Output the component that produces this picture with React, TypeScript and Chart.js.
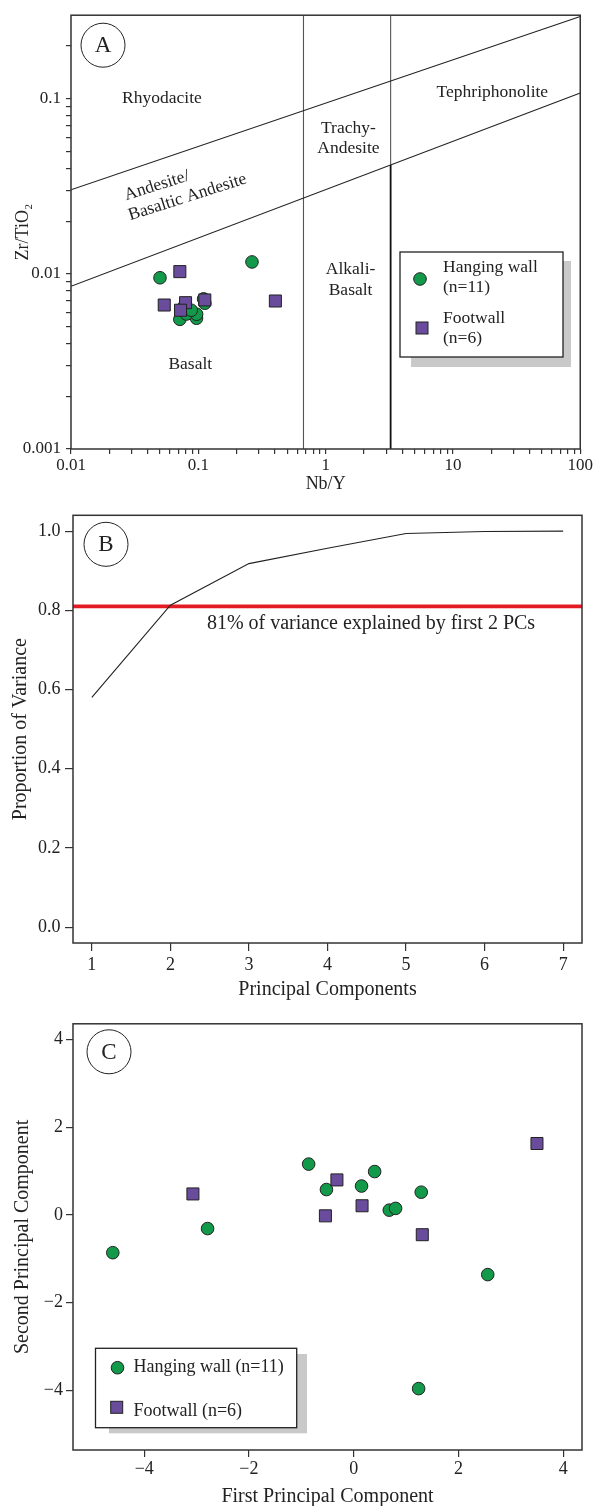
import React, { useEffect, useRef } from "react";
import { Chart, registerables } from "chart.js";

Chart.register(...registerables);

const FONT = "'Liberation Serif', 'Times New Roman', Times, serif";
const INK = "#222222";
const FRAME = "#333333";
const GREEN = "#12994a";
const PURPLE = "#6a4c9c";
const RED = "#e31b23";
const SHADOW = "#c9c9c9";

// ---------- Panel A: Zr/TiO2 vs Nb/Y ----------
const hangingNbY = [0.05, 0.264, 0.0716, 0.0968, 0.097, 0.0807, 0.1125, 0.11, 0.079, 0.074, 0.088];
const hangingZrTi = [0.0095, 0.0117, 0.0055, 0.00558, 0.00588, 0.0059, 0.0068, 0.0072, 0.0067, 0.0063, 0.0062];
const footNbY = [0.0716, 0.054, 0.0794, 0.0725, 0.1125, 0.403];
const footZrTi = [0.0103, 0.00664, 0.00685, 0.0062, 0.0071, 0.007];

// field boundaries (Nb/Y, Zr/TiO2)
const upperBoundaryNbY = [0.01, 100];
const upperBoundaryZrTi = [0.0302, 0.295];
const lowerBoundaryNbY = [0.01, 100];
const lowerBoundaryZrTi = [0.0085, 0.108];
const leftVerticalNbY = 0.67;
const rightVerticalNbY = 3.24;
const rightVerticalBreakZrTi = 0.0419;

const aXRange = [0.01, 100];
const aYRange = [0.001, 0.3];
const aXDecades = [0.01, 0.1, 1, 10, 100];
const aXTickLabels = ["0.01", "0.1", "1", "10", "100"];
const aYDecades = [0.001, 0.01, 0.1];
const aYTickLabels = ["0.001", "0.01", "0.1"];

const aFieldLabels = ["Rhyodacite", "Andesite/", "Basaltic Andesite", "Trachy-", "Andesite", "Tephriphonolite", "Alkali-", "Basalt", "Basalt"];
const aFieldLabelNbY = [0.0518, 0.0473, 0.0822, 1.51, 1.51, 20.4, 1.57, 1.57, 0.0865];
const aFieldLabelZrTi = [0.1, 0.0319, 0.0274, 0.0677, 0.0521, 0.1087, 0.0106, 0.00806, 0.00305];
const aFieldLabelAngle = [0, -17.6, -17.6, 0, 0, 0, 0, 0, 0];

// ---------- Panel B: scree (cumulative) ----------
const pcIndex = [1, 2, 3, 4, 5, 6, 7];
const cumulativeVariance = [0.58, 0.813, 0.918, 0.957, 0.994, 0.999, 1.0];
const varianceThreshold = 0.81;
const bXRange = [0.76, 7.24];
const bYRange = [-0.04, 1.04];
const bXTicks = [1, 2, 3, 4, 5, 6, 7];
const bYTicks = [0, 0.2, 0.4, 0.6, 0.8, 1.0];
const bNote = "81% of variance explained by first 2 PCs";
const bNoteAt = [4.554, 0.765];

// ---------- Panel C: PC scores ----------
const hangingPC1 = [-0.86, -0.52, 0.15, 0.4, 1.29, 0.68, 0.8, -2.79, -4.6, 2.56, 1.24];
const hangingPC2 = [1.16, 0.58, 0.66, 0.99, 0.52, 0.11, 0.15, -0.31, -0.86, -1.36, -3.96];
const footPC1 = [3.5, -0.32, -3.07, 0.16, -0.54, 1.31];
const footPC2 = [1.63, 0.8, 0.48, 0.21, -0.02, -0.45];
const cRange = [-5.36, 4.36];
const cTicks = [-4, -2, 0, 2, 4];

const zip = (xs: number[], ys: number[]) => xs.map((x, i) => ({ x, y: ys[i] }));
const minus = (v: number) => (v < 0 ? "\u2212" + Math.abs(v) : String(v));

function makeAxis(o: any) {
  return {
    type: o.type || "linear",
    position: o.position,
    min: o.min,
    max: o.max,
    afterBuildTicks: (s: any) => {
      s.ticks = o.tickValues.map((v: number) => ({ value: v }));
    },
    afterFit: (s: any) => {
      if (o.position === "bottom") s.height = o.size;
      else s.width = o.size;
    },
    grid: {
      display: true,
      drawOnChartArea: false,
      drawTicks: true,
      tickLength: o.tickLength,
      color: FRAME,
      lineWidth: 1.2,
    },
    border: { display: false },
    ticks: {
      autoSkip: false,
      maxRotation: 0,
      minRotation: 0,
      padding: o.tickPad,
      color: INK,
      font: { family: FONT, size: o.tickSize },
      callback: (v: number) => o.label(v),
    },
    title: {
      display: true,
      text: o.title,
      color: INK,
      font: { family: FONT, size: o.titleSize, lineHeight: o.titleLH || 1.2 },
      padding: o.titlePad,
    },
  };
}

function logTicks(lo: number, hi: number) {
  const out: number[] = [];
  for (let e = -4; e <= 3; e++) {
    for (let m = 1; m <= 9; m++) {
      const v = parseFloat((m * Math.pow(10, e)).toPrecision(6));
      if (v >= lo * 0.999 && v < hi * 0.999) out.push(v);
      if (Math.abs(v - hi) / hi < 1e-6) out.push(v);
    }
  }
  return out;
}

function decadeLabel(decades: number[], labels: string[]) {
  return (v: number) => {
    const i = decades.findIndex((d) => Math.abs(d - v) / d < 1e-6);
    return i >= 0 ? labels[i] : "";
  };
}

function drawFrameAndLetter(chart: any, letter: string, dx: number, dy: number) {
  const { ctx, chartArea: a } = chart;
  ctx.save();
  ctx.strokeStyle = FRAME;
  ctx.lineWidth = 1.5;
  ctx.strokeRect(a.left, a.top, a.right - a.left, a.bottom - a.top);
  ctx.beginPath();
  ctx.arc(a.left + dx, a.top + dy, 22, 0, Math.PI * 2);
  ctx.lineWidth = 1;
  ctx.strokeStyle = INK;
  ctx.stroke();
  ctx.fillStyle = INK;
  ctx.font = `23px ${FONT}`;
  ctx.textAlign = "center";
  ctx.textBaseline = "middle";
  ctx.fillText(letter, a.left + dx, a.top + dy + 1);
  ctx.restore();
}

function drawMarker(ctx: any, kind: string, x: number, y: number) {
  ctx.save();
  ctx.lineWidth = 1;
  ctx.strokeStyle = INK;
  if (kind === "circle") {
    ctx.fillStyle = GREEN;
    ctx.beginPath();
    ctx.arc(x, y, 6.3, 0, Math.PI * 2);
    ctx.fill();
    ctx.stroke();
  } else {
    ctx.fillStyle = PURPLE;
    ctx.fillRect(x - 6, y - 6, 12, 12);
    ctx.strokeRect(x - 6, y - 6, 12, 12);
  }
  ctx.restore();
}

function drawLegendBox(ctx: any, box: number[], shadow: number[]) {
  ctx.save();
  ctx.fillStyle = SHADOW;
  ctx.fillRect(shadow[0], shadow[1], shadow[2] - shadow[0], shadow[3] - shadow[1]);
  ctx.fillStyle = "#ffffff";
  ctx.fillRect(box[0], box[1], box[2] - box[0], box[3] - box[1]);
  ctx.strokeStyle = INK;
  ctx.lineWidth = 1.3;
  ctx.strokeRect(box[0], box[1], box[2] - box[0], box[3] - box[1]);
  ctx.restore();
}

function pointDataset(label: string, data: any[], kind: string) {
  return {
    label,
    data,
    pointStyle: kind === "circle" ? "circle" : "rect",
    pointRadius: kind === "circle" ? 6.3 : 8.5,
    pointBackgroundColor: kind === "circle" ? GREEN : PURPLE,
    pointBorderColor: INK,
    pointBorderWidth: 1,
    showLine: false,
  };
}

function lineDataset(data: any[], color: string, width: number) {
  return {
    data,
    showLine: true,
    borderColor: color,
    borderWidth: width,
    pointRadius: 0,
    pointHoverRadius: 0,
    fill: false,
  };
}

const basePlugins = {
  legend: { display: false },
  tooltip: { enabled: false },
};

function configA() {
  return {
    type: "scatter",
    data: {
      datasets: [
        pointDataset("Footwall (n=6)", zip(footNbY, footZrTi), "rect"),
        pointDataset("Hanging wall (n=11)", zip(hangingNbY, hangingZrTi), "circle"),
        lineDataset(zip(upperBoundaryNbY, upperBoundaryZrTi), INK, 1.1),
        lineDataset(zip(lowerBoundaryNbY, lowerBoundaryZrTi), INK, 1.1),
        lineDataset([{ x: leftVerticalNbY, y: aYRange[0] }, { x: leftVerticalNbY, y: aYRange[1] }], "#555555", 1.1),
        lineDataset([{ x: rightVerticalNbY, y: rightVerticalBreakZrTi }, { x: rightVerticalNbY, y: aYRange[1] }], "#555555", 1.1),
        lineDataset([{ x: rightVerticalNbY, y: aYRange[0] }, { x: rightVerticalNbY, y: rightVerticalBreakZrTi }], "#111111", 1.8),
      ],
    },
    options: {
      animation: false,
      responsive: false,
      events: [],
      layout: { padding: { left: 0, right: 13, top: 13, bottom: 0 } },
      plugins: basePlugins,
      scales: {
        x: makeAxis({
          type: "logarithmic", position: "bottom", min: aXRange[0], max: aXRange[1],
          tickValues: logTicks(aXRange[0], aXRange[1]), label: decadeLabel(aXDecades, aXTickLabels),
          size: 51, tickLength: 5, tickPad: 1, tickSize: 17,
          title: "Nb/Y", titleSize: 18, titlePad: { top: 0, bottom: 5 },
        }),
        y: makeAxis({
          type: "logarithmic", position: "left", min: aYRange[0], max: aYRange[1],
          tickValues: logTicks(aYRange[0], 0.25), label: decadeLabel(aYDecades, aYTickLabels),
          size: 71, tickLength: 5, tickPad: 5, tickSize: 17,
          title: "Zr/TiO\u2082", titleSize: 18, titlePad: { top: 12, bottom: 0 },
        }),
      },
    },
    plugins: [
      {
        id: "panelA",
        afterDraw(chart: any) {
          const { ctx } = chart;
          const sx = chart.scales.x, sy = chart.scales.y;
          ctx.save();
          ctx.fillStyle = INK;
          ctx.font = `17.5px ${FONT}`;
          ctx.textAlign = "center";
          ctx.textBaseline = "middle";
          aFieldLabels.forEach((t, i) => {
            const px = sx.getPixelForValue(aFieldLabelNbY[i]);
            const py = sy.getPixelForValue(aFieldLabelZrTi[i]);
            ctx.save();
            ctx.translate(px, py);
            ctx.rotate((aFieldLabelAngle[i] * Math.PI) / 180);
            ctx.fillText(t, 0, 0);
            ctx.restore();
          });
          ctx.restore();
          drawFrameAndLetter(chart, "A", 32, 30);
          drawLegendBox(ctx, [400, 252, 563, 357], [411, 261, 571, 367]);
          drawMarker(ctx, "circle", 420, 279);
          drawMarker(ctx, "rect", 422, 328);
          ctx.save();
          ctx.fillStyle = INK;
          ctx.font = `17.5px ${FONT}`;
          ctx.textAlign = "left";
          ctx.textBaseline = "middle";
          ctx.fillText("Hanging wall", 443, 267);
          ctx.fillText("(n=11)", 443, 287);
          ctx.fillText("Footwall", 443, 318);
          ctx.fillText("(n=6)", 443, 338);
          ctx.restore();
        },
      },
    ],
  };
}

function configB() {
  return {
    type: "scatter",
    data: {
      datasets: [
        lineDataset(zip(pcIndex, cumulativeVariance), INK, 1.1),
        lineDataset([{ x: bXRange[0], y: varianceThreshold }, { x: bXRange[1], y: varianceThreshold }], RED, 3.6),
      ],
    },
    options: {
      animation: false,
      responsive: false,
      events: [],
      layout: { padding: { left: 0, right: 12, top: 15, bottom: 0 } },
      plugins: basePlugins,
      scales: {
        x: makeAxis({
          position: "bottom", min: bXRange[0], max: bXRange[1], tickValues: bXTicks,
          label: (v: number) => String(v), size: 67, tickLength: 8, tickPad: 3.5, tickSize: 18,
          title: "Principal Components", titleSize: 20, titlePad: { top: 0, bottom: 8 },
        }),
        y: makeAxis({
          position: "left", min: bYRange[0], max: bYRange[1], tickValues: bYTicks,
          label: (v: number) => v.toFixed(1), size: 73, tickLength: 8, tickPad: 4.5, tickSize: 18,
          title: "Proportion of Variance", titleSize: 20, titlePad: { top: 9, bottom: 0 },
        }),
      },
    },
    plugins: [
      {
        id: "panelB",
        afterDraw(chart: any) {
          const { ctx } = chart;
          const sx = chart.scales.x, sy = chart.scales.y;
          ctx.save();
          ctx.fillStyle = INK;
          ctx.font = `20px ${FONT}`;
          ctx.textAlign = "center";
          ctx.textBaseline = "middle";
          ctx.fillText(bNote, sx.getPixelForValue(bNoteAt[0]), sy.getPixelForValue(bNoteAt[1]));
          ctx.restore();
          drawFrameAndLetter(chart, "B", 33, 29);
        },
      },
    ],
  };
}

function configC() {
  return {
    type: "scatter",
    data: {
      datasets: [
        pointDataset("Footwall (n=6)", zip(footPC1, footPC2), "rect"),
        pointDataset("Hanging wall (n=11)", zip(hangingPC1, hangingPC2), "circle"),
      ],
    },
    options: {
      animation: false,
      responsive: false,
      events: [],
      layout: { padding: { left: 0, right: 12, top: 13, bottom: 0 } },
      plugins: basePlugins,
      scales: {
        x: makeAxis({
          position: "bottom", min: cRange[0], max: cRange[1], tickValues: cTicks,
          label: minus, size: 56, tickLength: 7, tickPad: 1.5, tickSize: 18,
          title: "First Principal Component", titleSize: 20, titleLH: 0.95, titlePad: { top: 0, bottom: 0 },
        }),
        y: makeAxis({
          position: "left", min: cRange[0], max: cRange[1], tickValues: cTicks,
          label: minus, size: 73, tickLength: 7, tickPad: 3, tickSize: 18,
          title: "Second Principal Component", titleSize: 20, titlePad: { top: 10.7, bottom: 0 },
        }),
      },
    },
    plugins: [
      {
        id: "panelC",
        afterDraw(chart: any) {
          const { ctx } = chart;
          drawFrameAndLetter(chart, "C", 36, 28);
          drawLegendBox(ctx, [95.5, 338.3, 296.7, 417.7], [109, 344, 307, 423.3]);
          drawMarker(ctx, "circle", 117.5, 357.7);
          drawMarker(ctx, "rect", 116.7, 397.3);
          ctx.save();
          ctx.fillStyle = INK;
          ctx.font = `18px ${FONT}`;
          ctx.textAlign = "left";
          ctx.textBaseline = "middle";
          ctx.fillText("Hanging wall (n=11)", 133.4, 357.5);
          ctx.fillText("Footwall (n=6)", 133.4, 401);
          ctx.restore();
        },
      },
    ],
  };
}

function Panel({ top, height, make }: { top: number; height: number; make: () => any }) {
  const ref = useRef<HTMLCanvasElement | null>(null);
  useEffect(() => {
    if (!ref.current) return;
    const chart = new Chart(ref.current, make());
    return () => chart.destroy();
  }, []);
  return (
    <canvas
      ref={ref}
      width={594}
      height={height}
      style={{ position: "absolute", left: 0, top, width: 594, height }}
    />
  );
}

export default function App() {
  return (
    <div style={{ position: "absolute", left: 0, top: 0, width: 594, height: 1506, background: "#ffffff", overflow: "hidden" }}>
      <Panel top={0} height={500} make={configA} />
      <Panel top={500} height={510} make={configB} />
      <Panel top={1010} height={496} make={configC} />
    </div>
  );
}
